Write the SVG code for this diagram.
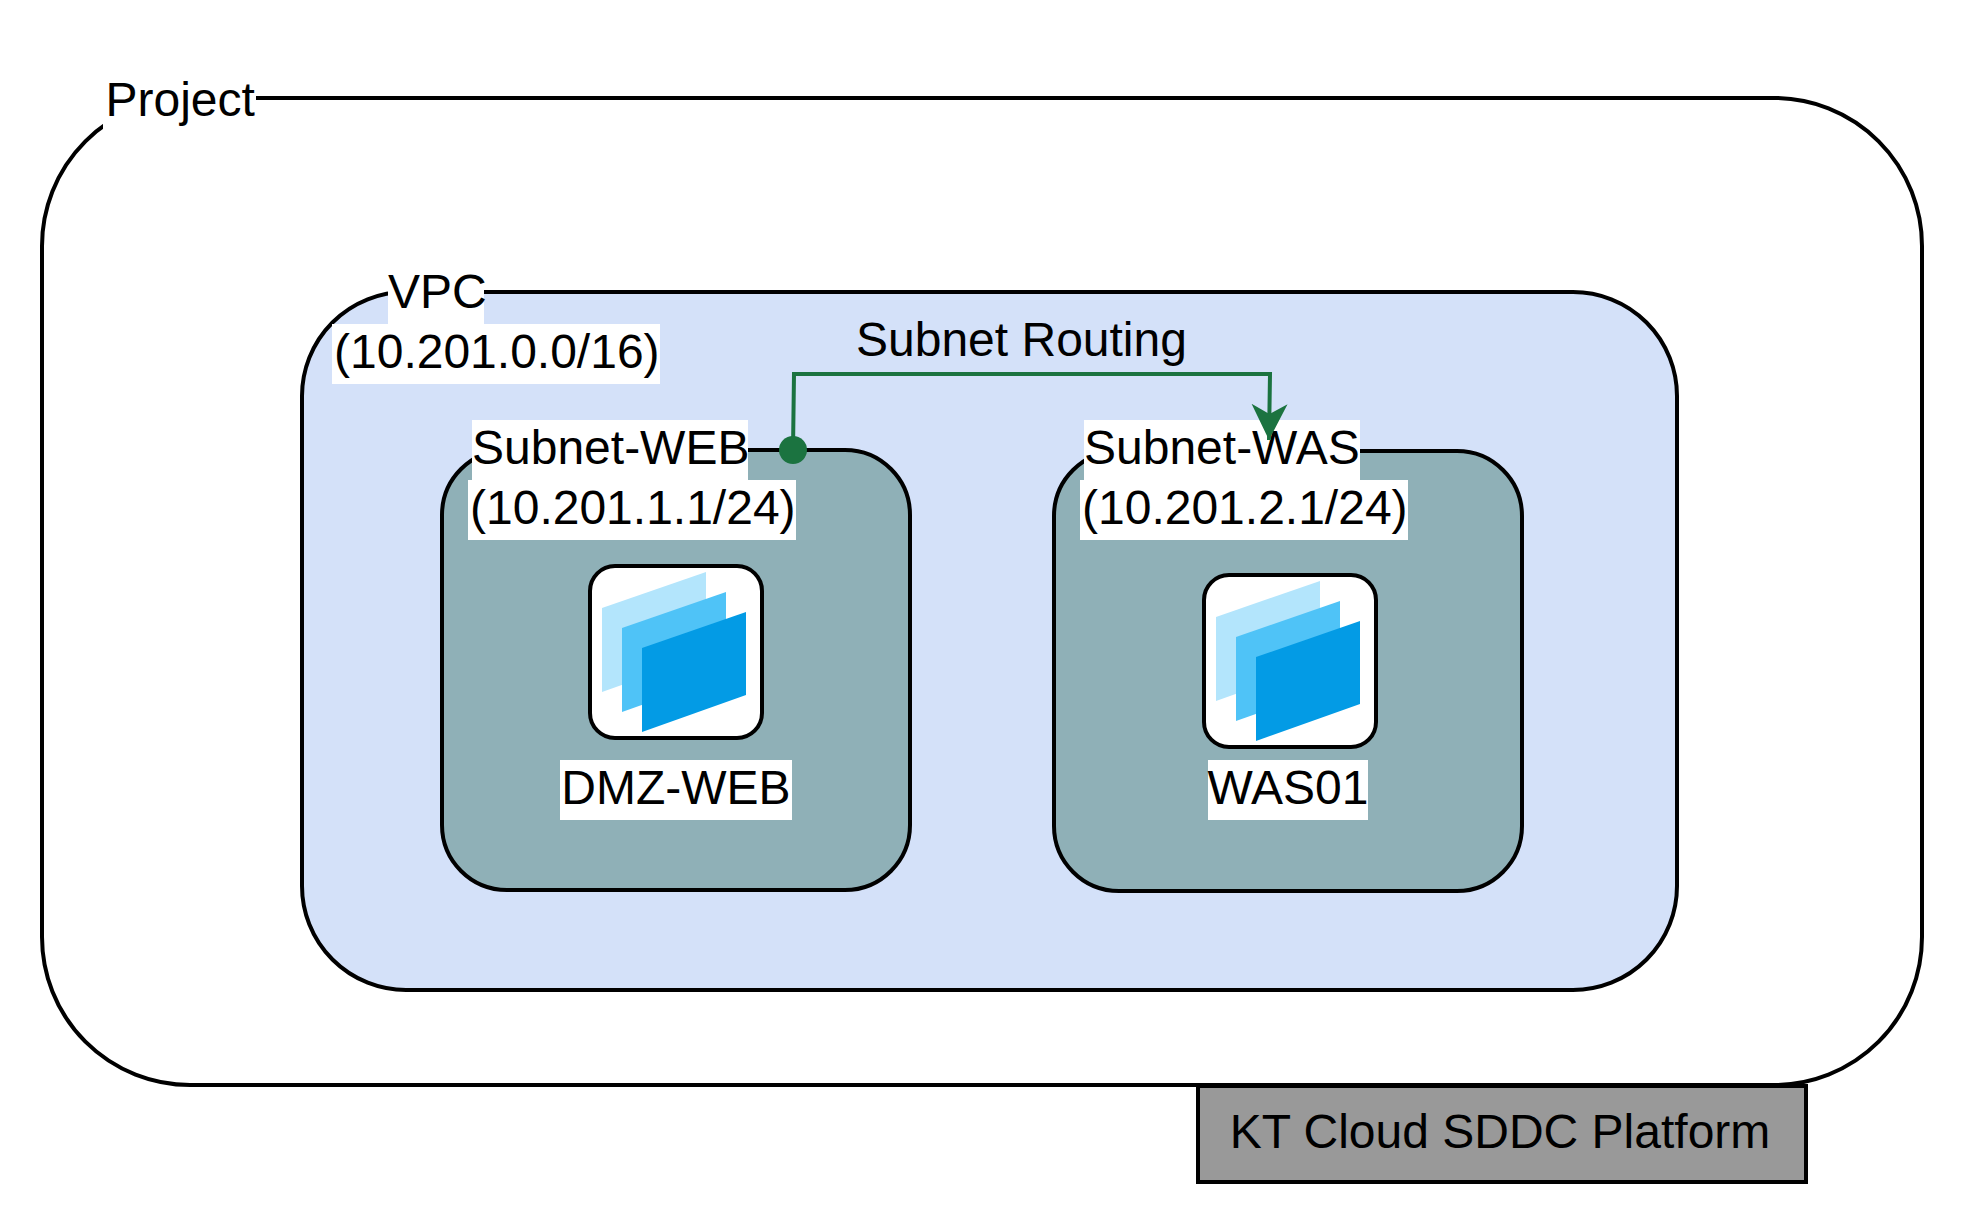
<svg xmlns="http://www.w3.org/2000/svg" width="1964" height="1224" viewBox="0 0 1964 1224">
<style>
.t{font-family:"Liberation Sans",Arial,sans-serif;font-size:48px;fill:#000}
.m{text-anchor:middle}
.b{stroke:#000;stroke-width:4}
.bg{fill:#fff}
</style>
<defs>
<g id="ic">
<rect class="b" x="590" y="566" width="172" height="172" rx="25" fill="#fff"/>
<polygon points="602,608 706,572 706,655 602,692" fill="#b3e5fc"/>
<polygon points="622,628 726,592 726,675 622,712" fill="#4fc3f7"/>
<polygon points="642,648 746,612 746,695 642,732" fill="#039be5"/>
</g>
<marker id="a" markerUnits="userSpaceOnUse" markerWidth="40" markerHeight="40" refX="36" refY="18" orient="auto"><path d="M0,0 L36,18 L0,36 L10,18Z" fill="#1b7340"/></marker>
</defs>
<rect width="1964" height="1224" fill="#fff"/>
<g id="project">
<rect class="b" x="42" y="98" width="1880" height="987" rx="148" fill="#fff"/>
<rect class="bg" x="103" y="72" width="153" height="60"/>
<text class="t" x="105.500" y="116">Project</text>
</g>
<g id="platform">
<rect class="b" x="1198" y="1086" width="608" height="96" fill="#999"/>
<text class="t m" x="1500" y="1148">KT Cloud SDDC Platform</text>
</g>
<g id="vpc">
<rect class="b" x="302" y="292" width="1375" height="698" rx="104" fill="#d4e1f9"/>
<rect class="bg" x="388" y="264" width="96" height="60"/>
<rect class="bg" x="332" y="324" width="328" height="60"/>
<text class="t" x="388" y="308">VPC</text>
<text class="t" x="334" y="368">(10.201.0.0/16)</text>
</g>
<g id="subnet-web">
<rect class="b" x="442" y="450" width="468" height="440" rx="65" fill="#8fb0b7"/>
<rect class="bg" x="472" y="420" width="276" height="60"/>
<rect class="bg" x="468" y="480" width="328" height="60"/>
<text class="t" x="472" y="464">Subnet-WEB</text>
<text class="t" x="470" y="524">(10.201.1.1/24)</text>
</g>
<g id="subnet-was">
<rect class="b" x="1054" y="451" width="468" height="440" rx="65" fill="#8fb0b7"/>
<rect class="bg" x="1084" y="420" width="276" height="60"/>
<rect class="bg" x="1080" y="480" width="328" height="60"/>
<text class="t" x="1084" y="464">Subnet-WAS</text>
<text class="t" x="1082" y="524">(10.201.2.1/24)</text>
</g>
<g id="dmz-web">
<use href="#ic"/>
<rect class="bg" x="560" y="760" width="232" height="60"/>
<text class="t m" x="676" y="804">DMZ-WEB</text>
</g>
<g id="was01">
<use href="#ic" x="614" y="9"/>
<rect class="bg" x="1208" y="760" width="160" height="60"/>
<text class="t m" x="1288" y="804">WAS01</text>
</g>
<g id="connectors">
<path d="M793,450 L794,374 H1270 L1269,440" fill="none" stroke="#1b7340" stroke-width="4" marker-end="url(#a)"/>
<circle cx="793" cy="450" r="14" fill="#1b7340"/>
</g>
<g id="edge-label"><text class="t" x="856" y="356">Subnet Routing</text></g>
</svg>
